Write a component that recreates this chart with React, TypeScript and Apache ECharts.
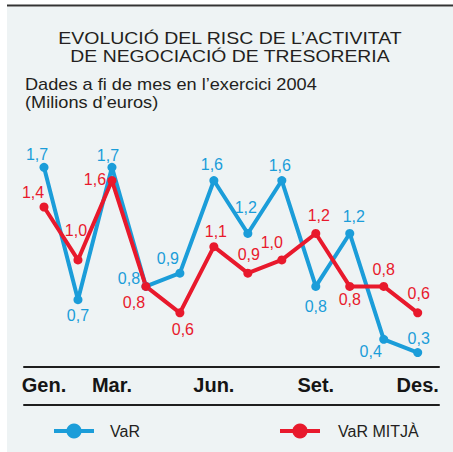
import React, { useEffect, useRef } from 'react';
import * as echarts from 'echarts';

const months = ['Gen.', 'Feb.', 'Mar.', 'Abr.', 'Mai.', 'Jun.', 'Jul.', 'Ago.', 'Set.', 'Oct.', 'Nov.', 'Des.'];
const shownMonthIdx = [0, 2, 5, 8, 11];
const varValues = [1.7, 0.7, 1.7, 0.8, 0.9, 1.6, 1.2, 1.6, 0.8, 1.2, 0.4, 0.3];
const varMitjaValues = [1.4, 1.0, 1.6, 0.8, 0.6, 1.1, 0.9, 1.0, 1.2, 0.8, 0.8, 0.6];
const seriesNames = ['VaR', 'VaR MITJÀ'];
const titleLines = ['EVOLUCIÓ DEL RISC DE L’ACTIVITAT', 'DE NEGOCIACIÓ DE TRESORERIA'];
const subtitleLines = ['Dades a fi de mes en l’exercici 2004', '(Milions d’euros)'];

// label placement (layout only): offset of each value label from its point
const varLabelOffsets = [[-7, -13], [0, 16], [-4, -12], [-17, -8], [-12, -15], [-2, -16], [-2, -26], [-2, -15], [0, 20], [4, -17], [-13, 12], [1, -14]];
const mitjaLabelOffsets = [[-11, -15], [-2, -29], [-17, -1], [-12, 16], [3, 17], [2, -15], [1, -19], [-10, -17], [3, -18], [0, 13], [0, -17], [1, -19]];

const BLUE = '#1b9dd9';
const RED = '#e8192c';
const BG = '#eef3f4';
const INK = '#231f20';
const RULE = '#1e1e1e';
const SANS = '"Liberation Sans", Arial, sans-serif';

const fmt = (p: any) => Number(p.value).toFixed(1).replace('.', ',');

function buildData(values: number[], offsets: number[][]) {
  return values.map((v, i) => ({ value: v, label: { offset: offsets[i] } }));
}

const ruleAxis = (gridIndex: number) => ({
  gridIndex,
  type: 'value',
  min: 0,
  max: 1,
  position: 'bottom',
  axisLine: { show: true, lineStyle: { color: RULE, width: 2 } },
  axisTick: { show: false },
  axisLabel: { show: false },
  splitLine: { show: false },
});
const hiddenY = (gridIndex: number) => ({ gridIndex, type: 'value', show: false, min: 0, max: 1 });

export default function App() {
  const ref = useRef<HTMLDivElement>(null);
  useEffect(() => {
    if (!ref.current) return;
    const chart = echarts.init(ref.current, undefined, { renderer: 'svg' });
    const lineSeries = (name: string, values: number[], offsets: number[][], color: string) => ({
      name,
      type: 'line',
      xAxisIndex: 0,
      yAxisIndex: 0,
      data: buildData(values, offsets),
      symbol: 'circle',
      symbolSize: 9,
      showAllSymbol: true,
      lineStyle: { color, width: 4 },
      itemStyle: { color },
      label: {
        show: true,
        position: 'inside',
        formatter: fmt,
        color,
        fontFamily: SANS,
        fontSize: 16,
      },
      emphasis: { disabled: true },
      z: 3,
    });
    const legendBase = {
      top: 418,
      itemWidth: 40,
      itemHeight: 19,
      itemGap: 0,
      lineStyle: { width: 4 },
      selectedMode: false,
    };
    chart.setOption({
      animation: false,
      backgroundColor: BG,
      grid: [
        { left: 44, right: 35.3, top: 127.6, bottom: 86.2, containLabel: false },
        { left: 24, right: 14, top: 300, bottom: 85.3, containLabel: false },
        { left: 24, right: 14, top: 380, bottom: 47.7, containLabel: false },
      ],
      xAxis: [
        {
          gridIndex: 0,
          type: 'category',
          data: months,
          boundaryGap: false,
          axisLine: { show: false },
          axisTick: { show: false },
          splitLine: { show: false },
          axisLabel: {
            interval: (i: number) => shownMonthIdx.includes(i),
            margin: 9,
            fontFamily: SANS,
            fontWeight: 'bold',
            fontSize: 20,
            color: '#151515',
          },
        },
        ruleAxis(1),
        ruleAxis(2),
      ],
      yAxis: [
        { gridIndex: 0, type: 'value', min: 0.2, max: 2.0, show: false },
        hiddenY(1),
        hiddenY(2),
      ],
      legend: [
        {
          ...legendBase,
          left: 47,
          data: [seriesNames[0]],
          textStyle: { fontSize: 16, color: INK, fontFamily: SANS, padding: [0, 0, 0, 11] },
        },
        {
          ...legendBase,
          left: 273,
          data: [seriesNames[1]],
          textStyle: { fontSize: 16, color: INK, fontFamily: SANS, padding: [0, 0, 0, 13] },
        },
      ],
      graphic: [
        { type: 'rect', shape: { x: 0, y: 0, width: 7, height: 452 }, style: { fill: '#ffffff' } },
        { type: 'rect', shape: { x: 0, y: 0, width: 453, height: 7 }, style: { fill: '#ffffff' } },
        { type: 'rect', shape: { x: 7, y: 4.5, width: 446, height: 2 }, style: { fill: '#333333' } },
        {
          type: 'text', x: 230, y: 38, scaleX: 1.145,
          style: { text: titleLines[0], fontFamily: SANS, fontSize: 17, fill: INK, align: 'center', verticalAlign: 'middle' },
        },
        {
          type: 'text', x: 230, y: 56.3, scaleX: 1.14,
          style: { text: titleLines[1], fontFamily: SANS, fontSize: 17, fill: INK, align: 'center', verticalAlign: 'middle' },
        },
        {
          type: 'text', x: 25, y: 85, scaleX: 1.136,
          style: { text: subtitleLines[0], fontFamily: SANS, fontSize: 16, fill: INK, align: 'left', verticalAlign: 'middle' },
        },
        {
          type: 'text', x: 25, y: 102.5, scaleX: 1.136,
          style: { text: subtitleLines[1], fontFamily: SANS, fontSize: 16, fill: INK, align: 'left', verticalAlign: 'middle' },
        },
      ],
      series: [
        lineSeries(seriesNames[0], varValues, varLabelOffsets, BLUE),
        lineSeries(seriesNames[1], varMitjaValues, mitjaLabelOffsets, RED),
      ],
    });
    return () => chart.dispose();
  }, []);
  return <div ref={ref} style={{ position: 'absolute', left: 0, top: 0, width: 453, height: 452 }} />;
}
